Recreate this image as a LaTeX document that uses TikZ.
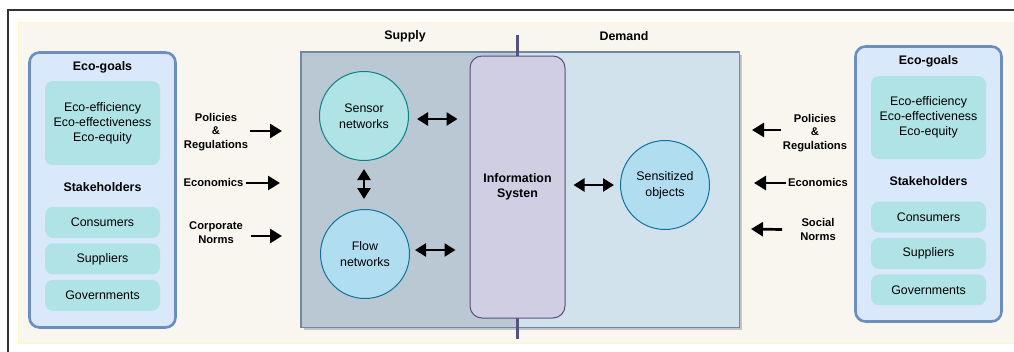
\documentclass[tikz,border=0pt]{standalone}
\usepackage{fontspec}
\setmainfont{Liberation Sans}
\usepackage{xcolor}
\usetikzlibrary{positioning, arrows.meta, shapes.geometric}

\definecolor{frameline}{HTML}{333333}
\definecolor{cream}{HTML}{F8F6EF}
\definecolor{creamline}{HTML}{FFF4CC}
\definecolor{panelfill}{HTML}{DAE8FC}
\definecolor{panelline}{HTML}{6C8EBF}
\definecolor{tealfill}{HTML}{B0E3E6}
\definecolor{tealline}{HTML}{0E8088}
\definecolor{bluefill}{HTML}{B1DDF0}
\definecolor{blueline}{HTML}{10739E}
\definecolor{supplyfill}{HTML}{BAC8D3}
\definecolor{demandfill}{HTML}{D2E2EC}
\definecolor{zoneline}{HTML}{7288A0}
\definecolor{shadowgray}{HTML}{C4C4C4}
\definecolor{infofill}{HTML}{D0CEE2}
\definecolor{infoline}{HTML}{56517E}

\newcommand\mainfs{\fontsize{12.4}{15}\selectfont}
\newcommand\sidefs{\fontsize{11.2}{13.8}\selectfont}

\begin{document}
\begin{tikzpicture}[
  x=1pt, y=-1pt,
  every node/.style={align=center, inner sep=2pt, font=\mainfs},
  head/.style ={font=\mainfs\bfseries},
  side/.style ={font=\sidefs\bfseries},
  panel/.style={draw=panelline, line width=2.6pt, fill=panelfill,
                rounded corners=10pt, minimum width=146pt, minimum height=275pt},
  item/.style ={fill=tealfill, rounded corners=8pt,
                minimum width=115pt, minimum height=31pt},
  zone/.style ={inner sep=0pt, minimum height=275pt},
  hub/.style  ={circle, draw=blueline, fill=bluefill, line width=1pt,
                minimum size=89pt, font=\fontsize{12.4}{16}\selectfont},
  infobox/.style={draw=infoline, fill=infofill, line width=1pt, rounded corners=12pt,
                minimum width=95pt, minimum height=262pt, font=\mainfs\bfseries},
  push/.style ={-{Triangle[length=12pt, width=14pt]}, line width=2.7pt},
  dbl/.style  ={{Triangle[length=11pt, width=13pt]}-{Triangle[length=11pt, width=13pt]},
                line width=2.5pt},
]
\useasboundingbox (0,0) rectangle (1014,351);

% ---- Background and frame --------------------------------------------------
\draw[frameline, line width=1.5pt] (1020,10) -- (8,10) -- (8,360);
\draw[draw=creamline, fill=cream, line width=1pt] (18,22) rectangle (1030,343);

% ---- Left panel: eco-goals and stakeholders --------------------------------
\node[panel]                          (lpanel)     at (102.5,190) {};
\node[head]                           (lgoalhead)  at (102.5,67)  {Eco-goals};
\node[item, minimum height=84pt]      (lgoals)     at (102.5,123) {Eco-efficiency\\Eco-effectiveness\\Eco-equity};
\node[head]                           (lstakehead) at (102.5,187) {Stakeholders};
\node[item]                           (lcons)      at (102.5,222.5) {Consumers};
\node[item, below=5pt of lcons]       (lsupp)      {Suppliers};
\node[item, below=5pt of lsupp]       (lgov)       {Governments};

% ---- Right panel: same contents, slightly higher ---------------------------
\node[panel]                          (rpanel)     at (928.5,184) {};
\node[head]                           (rgoalhead)  at (928.5,61)  {Eco-goals};
\node[item, minimum height=83pt]      (rgoals)     at (928.5,117.5) {Eco-efficiency\\Eco-effectiveness\\Eco-equity};
\node[head]                           (rstakehead) at (928.5,181) {Stakeholders};
\node[item]                           (rcons)      at (928.5,217) {Consumers};
\node[item, below=5pt of rcons]       (rsupp)      {Suppliers};
\node[item, below=5pt of rsupp]       (rgov)       {Governments};

% ---- Supply / demand zones --------------------------------------------------
\fill[shadowgray] (304,55) rectangle (742,330);
\node[zone, fill=supplyfill, minimum width=216pt, anchor=north west] (supplyzone) at (301,52) {};
\node[zone, fill=demandfill, minimum width=222pt, anchor=north west] (demandzone) at (517,52) {};
\draw[zoneline, line width=1.2pt] (supplyzone.north west) rectangle (demandzone.south east);
\node[head] (supplyhead) at (405,36) {Supply};
\node[head] (demandhead) at (624,36) {Demand};

% divider between supply and demand, under the information system
\coordinate (divtop) at (517,35);
\coordinate (divbot) at (517,339);
\draw[infoline, line width=3pt] (divtop) -- (divbot);

\node[infobox] (info) at (517.5,187) {Information\\Systen};

\node[hub, draw=tealline, fill=tealfill] (sensor) at (364,116) {Sensor\\networks};
\node[hub]                               (flow)   at (365,254) {Flow\\networks};
\node[hub]                               (sensed) at (665,185) {Sensitized\\objects};

% ---- Exchanges with the information system ----------------------------------
\draw[dbl, shorten <=8pt, shorten >=12pt] ([yshift=-3pt]sensor.east) -- ([yshift=-3pt]sensor.east -| info.west);
\draw[dbl, shorten <=5pt, shorten >=14pt] ([yshift=4pt]flow.east) -- ([yshift=4pt]flow.east -| info.west);
\draw[dbl, shorten <=8pt, shorten >=6pt]  (sensed.west -| info.east) -- (sensed.west);
\draw[dbl, shorten <=8pt, shorten >=10pt] (sensor.south) -- (flow.north -| sensor.south);

% ---- Pressures from the left ------------------------------------------------
\node[side] (lpol)  at (216,132)   {Policies\\\&\\Regulations};
\node[side] (lecon) at (213.5,182) {Economics};
\node[side] (lcorp) at (216,233)   {Corporate\\Norms};
\coordinate (lpol-tip)  at (282,131);
\coordinate (lecon-tip) at (280,183);
\coordinate (lcorp-tip) at (282,236);
\draw[push] ([yshift=1pt]lpol.east) -- (lpol-tip);
\draw[push] ([yshift=-1pt]lecon.east) -- (lecon-tip);
\draw[push] ([xshift=6pt, yshift=-3pt]lcorp.east) -- (lcorp-tip);

% ---- Pressures from the right -----------------------------------------------
\node[side] (rpol)  at (815,133)   {Policies\\\&\\Regulations};
\node[side] (recon) at (818,182)   {Economics};
\node[side] (rsoc)  at (818,229.5) {Social\\Norms};
\coordinate (rpol-tip)  at (752,130);
\coordinate (recon-tip) at (754,183);
\coordinate (rsoc-tip)  at (751,229);
\draw[push] ([yshift=3pt]rpol.west) -- (rpol-tip);
\draw[push] ([yshift=-1pt]recon.west) -- (recon-tip);
\draw[push] ([xshift=-16pt]rsoc.west) -- (rsoc-tip);
\end{tikzpicture}
\end{document}
